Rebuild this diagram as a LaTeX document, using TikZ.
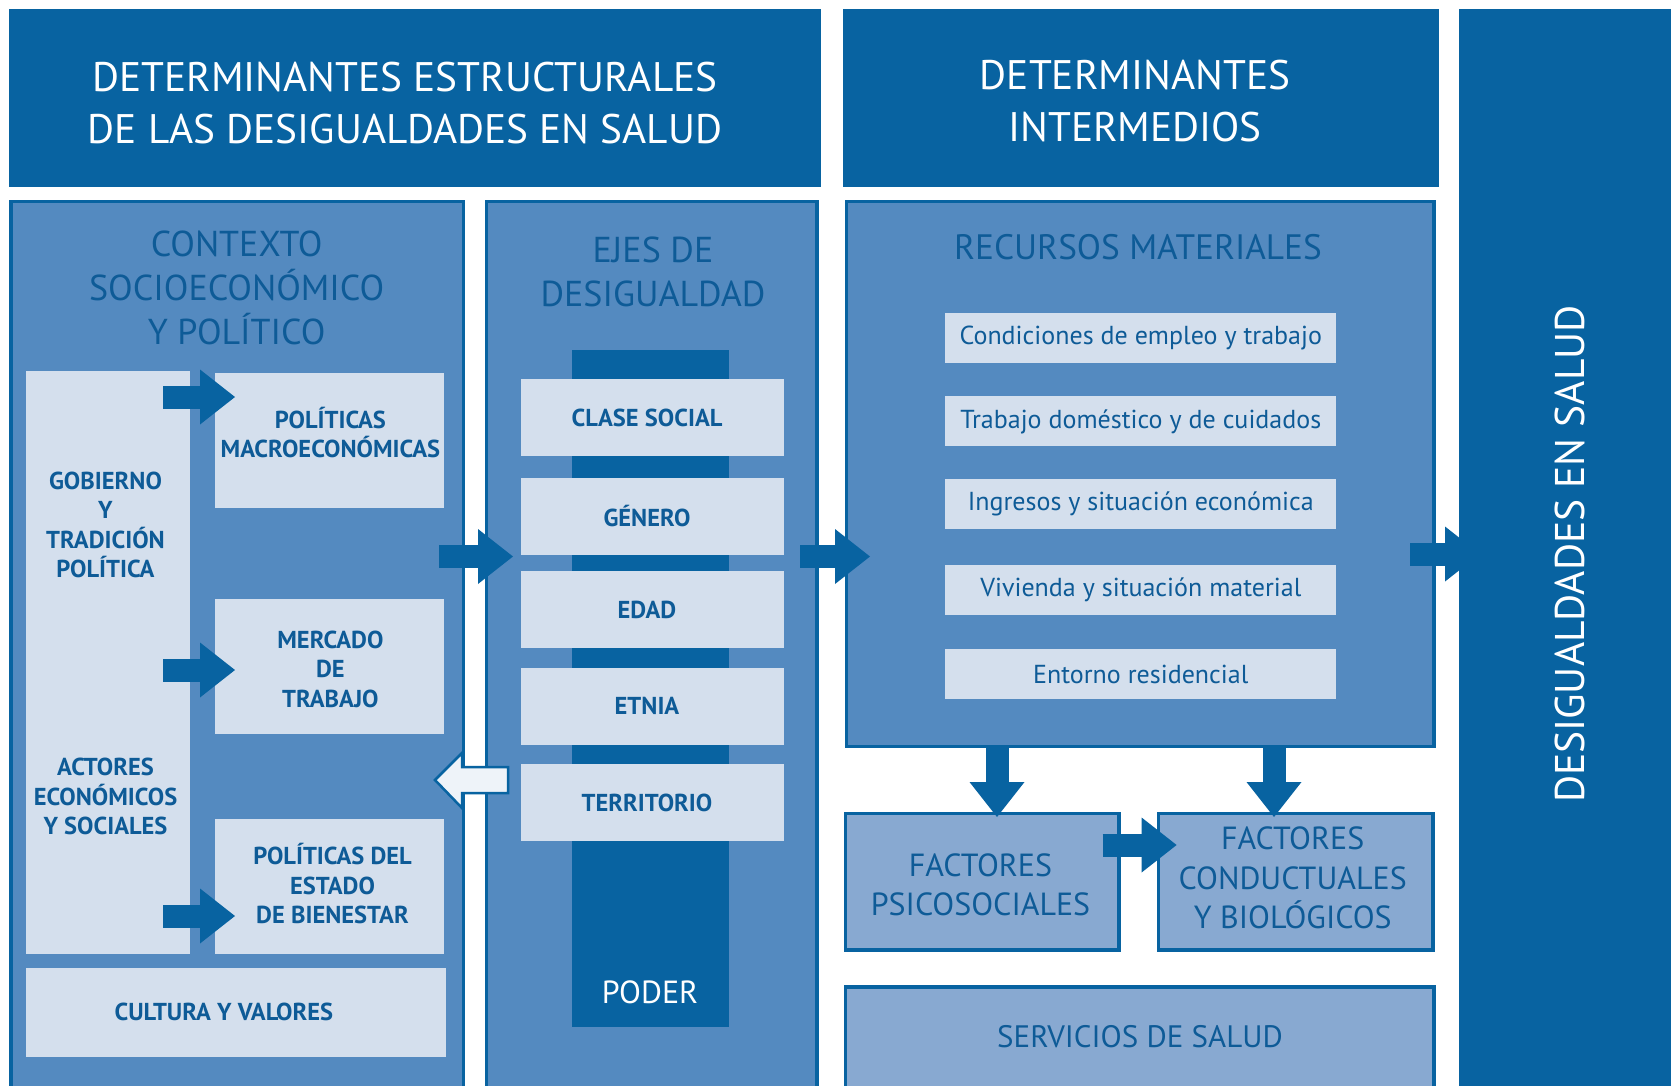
\documentclass[tikz,border=0pt]{standalone}
\usepackage{fontspec}
\setmainfont{PT Sans}
\usetikzlibrary{arrows.meta}
\definecolor{dk}{RGB}{8,99,161}
\definecolor{md}{RGB}{84,138,192}
\definecolor{lt}{RGB}{212,223,237}
\definecolor{fc}{RGB}{136,169,209}
\definecolor{tx}{RGB}{14,91,151}
\definecolor{wa}{RGB}{238,243,249}
\begin{document}
\begin{tikzpicture}[x=1pt,y=-1pt,
  bx/.style={rectangle, inner sep=0pt, outer sep=0pt, anchor=north west},
  dkbox/.style={bx, fill=dk},
  ltbox/.style={bx, fill=lt},
  panel/.style={bx, draw=dk, line width=3.5pt, fill=md},
  fpanel/.style={bx, draw=dk, line width=3.5pt, fill=fc},
  barr/.style={draw=dk, line width=23pt, -{Triangle[length=35pt,width=55pt,line width=0pt]}},
  hdrtxt/.style={text=white, align=center, font=\fontsize{41.3}{52}\selectfont},
  ttl/.style={text=tx, align=center, font=\fontsize{36}{44}\selectfont},
  ftl/.style={text=tx, align=center, font=\fontsize{32}{39.5}\selectfont},
  lab/.style={text=tx, align=center, font=\bfseries\fontsize{24.5}{29.5}\selectfont},
  item/.style={text=tx, align=center, font=\fontsize{26}{30}\selectfont}
]
\path[use as bounding box] (0,0) rectangle (1671,1085);
\clip (0,0) rectangle (1671,1085);
\fill[white] (0,0) rectangle (1671,1085);

% headers
\node[dkbox, minimum width=812pt, minimum height=178pt] (hdr1) at (8.5,8.5) {};
\node[dkbox, minimum width=596pt, minimum height=178pt] (hdr2) at (843,8.5) {};

% panels
\node[panel, minimum width=452.5pt, minimum height=900pt] (ctx) at (11,201.5) {};
\node[panel, minimum width=330.5pt, minimum height=900pt] (ejes) at (486.5,201.5) {};
\node[panel, minimum width=587.5pt, minimum height=545pt] (rec) at (846.5,201.5) {};
\node[fpanel, minimum width=273.5pt, minimum height=136.5pt] (psi) at (845.5,813.5) {};
\node[fpanel, minimum width=274.5pt, minimum height=136.5pt] (cond) at (1158.5,813.5) {};
\node[fpanel, minimum width=588.5pt, minimum height=113pt] (serv) at (845.5,987) {};

% context inner boxes
\node[ltbox, minimum width=164.4pt, minimum height=583.5pt] (gob) at (25.6,370.5) {};
\node[ltbox, minimum width=228.7pt, minimum height=135pt] (macro) at (215.3,373.3) {};
\node[ltbox, minimum width=228.7pt, minimum height=135.5pt] (merc) at (215.3,598.5) {};
\node[ltbox, minimum width=228.7pt, minimum height=135pt] (estado) at (215.3,819) {};
\node[ltbox, minimum width=420pt, minimum height=89.5pt] (cult) at (26,967.5) {};

% ejes inner
\node[dkbox, minimum width=157pt, minimum height=677pt] (bar) at (572,349.5) {};
\node[ltbox, minimum width=263pt, minimum height=77pt] (e1) at (521,379) {};
\node[ltbox, minimum width=263pt, minimum height=77pt] (e2) at (521,477.7) {};
\node[ltbox, minimum width=263pt, minimum height=77pt] (e3) at (521,571) {};
\node[ltbox, minimum width=263pt, minimum height=77pt] (e4) at (521,667.7) {};
\node[ltbox, minimum width=263pt, minimum height=77pt] (e5) at (521,764.3) {};

% recursos items
\node[ltbox, minimum width=391pt, minimum height=50pt] (r1) at (945.3,312.5) {};
\node[ltbox, minimum width=391pt, minimum height=50pt] (r2) at (945.3,396.4) {};
\node[ltbox, minimum width=391pt, minimum height=50pt] (r3) at (945.3,478.5) {};
\node[ltbox, minimum width=391pt, minimum height=50pt] (r4) at (945.3,564.8) {};
\node[ltbox, minimum width=391pt, minimum height=50pt] (r5) at (945.3,649) {};

% arrow coordinates
\coordinate (g1s) at (163,397);  \coordinate (g1e) at (235,397);
\coordinate (g2s) at (163,670);  \coordinate (g2e) at (235,670);
\coordinate (g3s) at (163,916);  \coordinate (g3e) at (235,916);
\coordinate (ce_s) at (439,556.5); \coordinate (ce_e) at (513,556.5);
\coordinate (er_s) at (800,556.5); \coordinate (er_e) at (870,556.5);
\coordinate (rc_s) at (1410,554); \coordinate (rc_e) at (1480,554);
\coordinate (d1s) at (997,746); \coordinate (d1e) at (997,817);
\coordinate (d2s) at (1274,746); \coordinate (d2e) at (1274,817);
\coordinate (pc_s) at (1102.6,845); \coordinate (pc_e) at (1176.6,845);

\draw[barr] (g1s) -- (g1e);
\draw[barr] (g2s) -- (g2e);
\draw[barr] (g3s) -- (g3e);
\draw[barr] (ce_s) -- (ce_e);
\draw[barr] (er_s) -- (er_e);
\draw[barr] (rc_s) -- (rc_e);
\draw[barr] (d1s) -- (d1e);
\draw[barr] (d2s) -- (d2e);
\draw[barr] (pc_s) -- (pc_e);

% white feedback arrow (ejes -> contexto)
\coordinate (wtip) at (435,780);
\draw[draw=dk, line width=2.5pt, fill=wa, line join=miter]
  (wtip) -- ++(27,-27) -- ++(0,14) -- ++(46,0) -- ++(0,26) -- ++(-46,0) -- ++(0,15) -- cycle;

% right column
\node[dkbox, minimum width=230pt, minimum height=1100pt] (rcol) at (1459,8.5) {};

% texts
\node[hdrtxt] (thdr1) at (405,102.8) {DETERMINANTES ESTRUCTURALES\\DE LAS DESIGUALDADES EN SALUD};
\node[hdrtxt] (thdr2) at (1135,100.7) {DETERMINANTES\\INTERMEDIOS};
\node[ttl] (tctx) at (236.6,288) {CONTEXTO\\SOCIOECONÓMICO\\Y POLÍTICO};
\node[ttl] (tejes) at (653,271.7) {EJES DE\\DESIGUALDAD};
\node[ttl, font=\fontsize{35.3}{44}\selectfont] (trec) at (1138,247) {RECURSOS MATERIALES};
\node[lab] (tgob) at (105.5,524.9) {GOBIERNO\\Y\\TRADICIÓN\\POLÍTICA};
\node[lab] (tact) at (105.5,796.5) {ACTORES\\ECONÓMICOS\\Y SOCIALES};
\node[lab] (tmacro) at (330.4,432.7) {POLÍTICAS\\MACROECONÓMICAS};
\node[lab] (tmerc) at (330.4,669.3) {MERCADO\\DE\\TRABAJO};
\node[lab] (testado) at (332.5,883.5) {POLÍTICAS DEL\\ESTADO\\DE BIENESTAR};
\node[lab] (tcult) at (223.8,1012.4) {CULTURA Y VALORES};
\node[lab] at ([xshift=-5.5pt]e1.center) (te1) {CLASE SOCIAL};
\node[lab] at ([xshift=-5.5pt]e2.center) (te2) {GÉNERO};
\node[lab] at ([xshift=-5.5pt]e3.center) (te3) {EDAD};
\node[lab] at ([xshift=-5.5pt]e4.center) (te4) {ETNIA};
\node[lab] at ([xshift=-5.5pt]e5.center) (te5) {TERRITORIO};
\node[text=white, font=\fontsize{32}{36}\selectfont] (tpoder) at (650,992) {PODER};
\node[item] at (r1.center) (tr1) {Condiciones de empleo y trabajo};
\node[item] at (r2.center) (tr2) {Trabajo doméstico y de cuidados};
\node[item] at (r3.center) (tr3) {Ingresos y situación económica};
\node[item] at (r4.center) (tr4) {Vivienda y situación material};
\node[item] at (r5.center) (tr5) {Entorno residencial};
\node[ftl] (tpsi) at (980.5,885) {FACTORES\\PSICOSOCIALES};
\node[ftl] (tcond) at (1292.7,878) {FACTORES\\CONDUCTUALES\\Y BIOLÓGICOS};
\node[ftl, font=\fontsize{31}{39.5}\selectfont] (tserv) at (1140,1037) {SERVICIOS DE SALUD};
\node[text=white, rotate=90, font=\fontsize{41.5}{50}\selectfont] (tdes) at (1570,554) {DESIGUALDADES EN SALUD};
\end{tikzpicture}
\end{document}
